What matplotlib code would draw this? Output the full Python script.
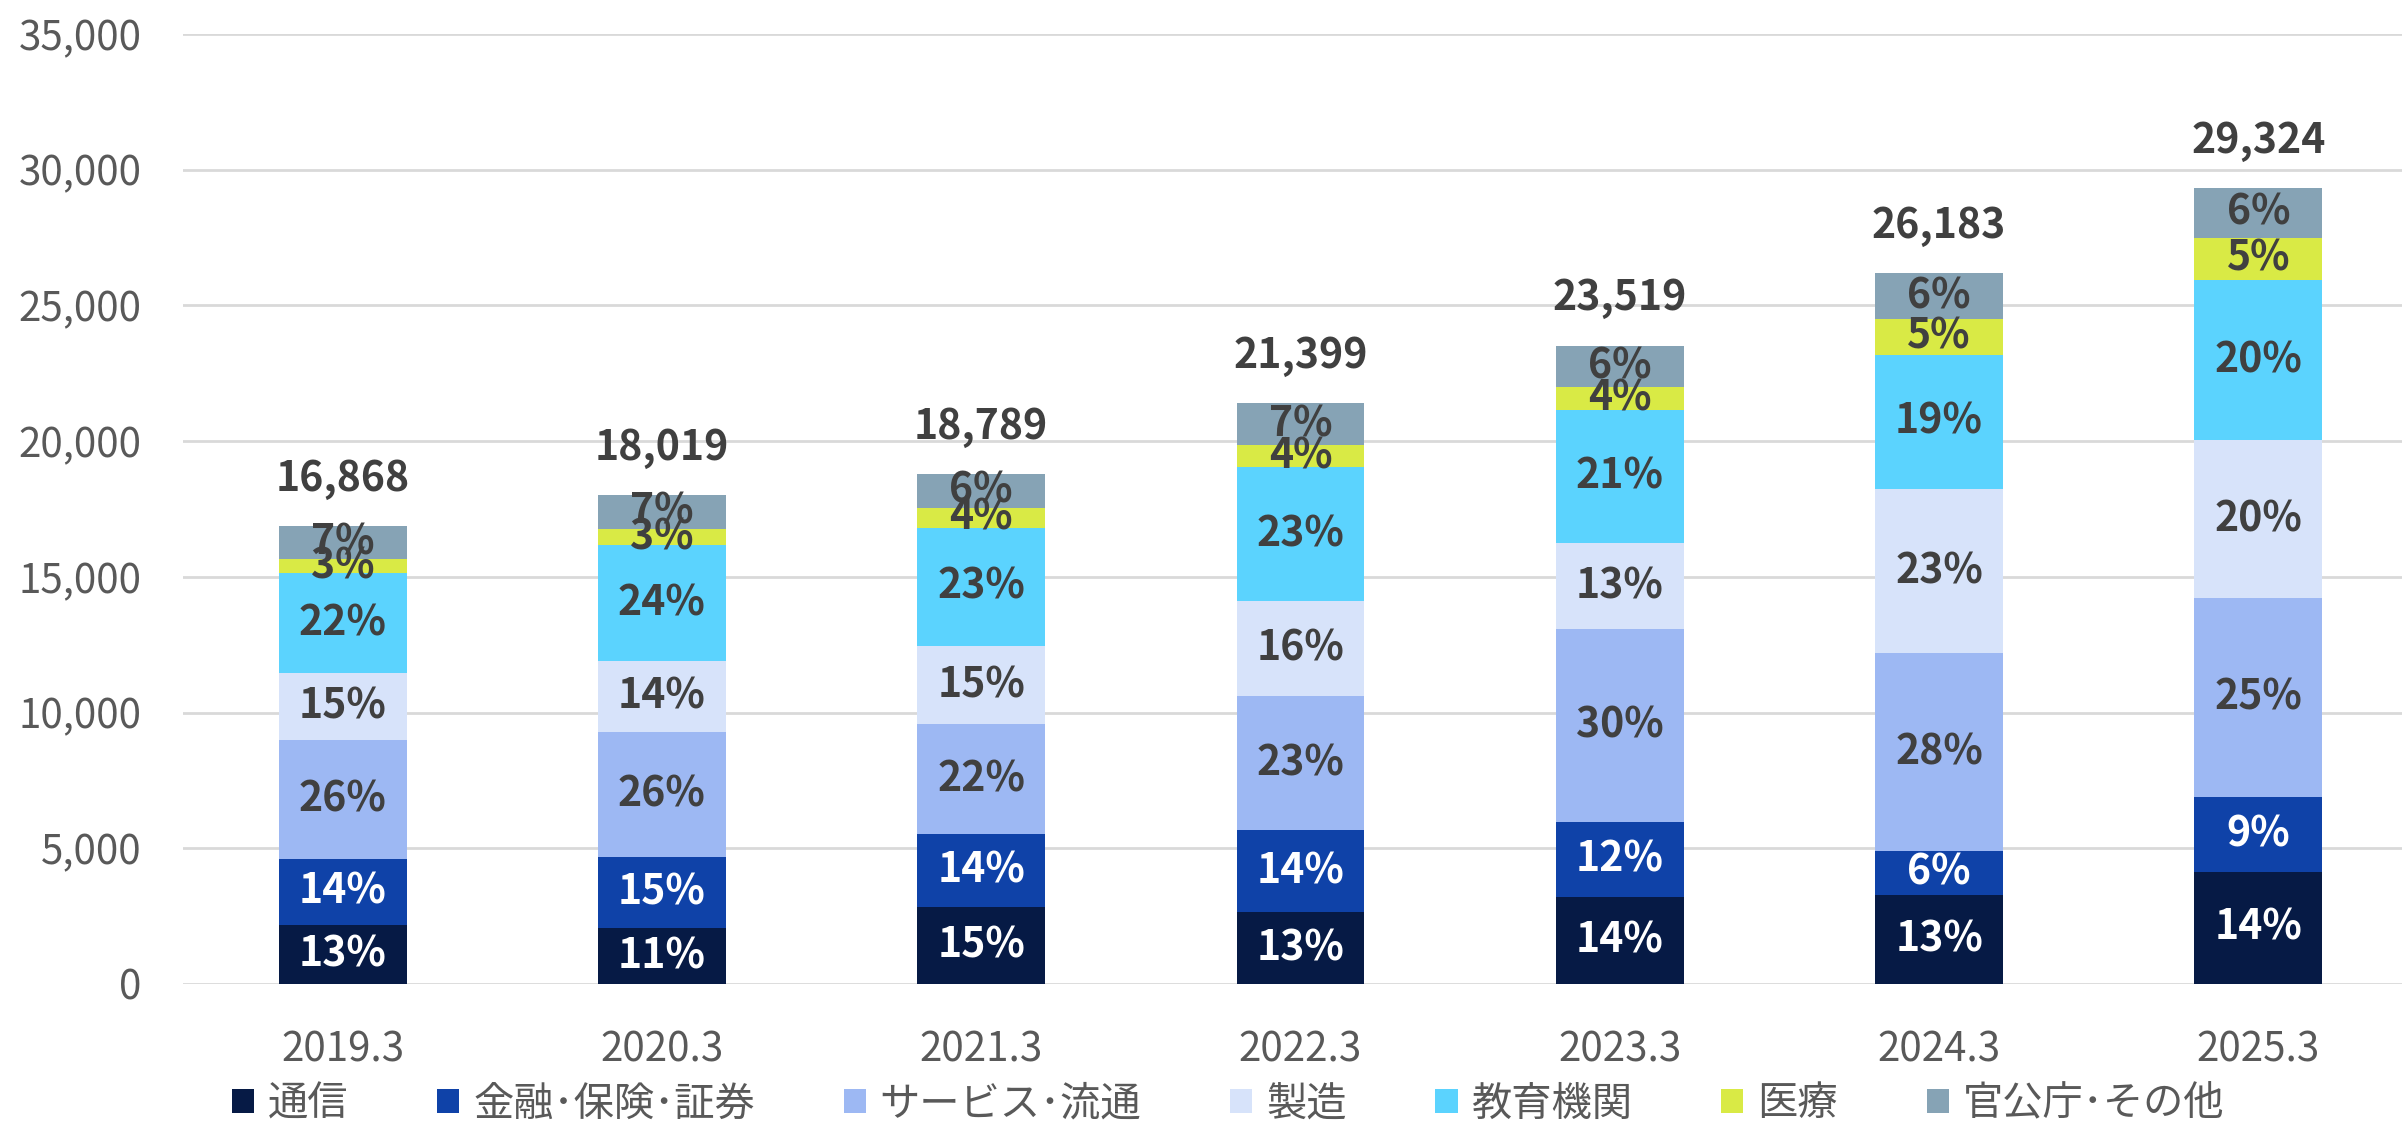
import matplotlib
matplotlib.use("Agg")
import matplotlib.pyplot as plt
import numpy as np
from matplotlib.patches import Patch

plt.rcParams['font.family'] = ['Noto Sans CJK JP', 'DejaVu Sans']

years = ['2019.3', '2020.3', '2021.3', '2022.3', '2023.3', '2024.3', '2025.3']
totals = [16868, 18019, 18789, 21399, 23519, 26183, 29324]

# segment values
tsushin = [2188, 2056, 2820, 2636, 3190, 3295, 4138]
kinyu = [2422, 2609, 2689, 3031, 2767, 1607, 2741]
service = [4380, 4613, 4059, 4929, 7113, 7275, 7328]
seizo = [2450, 2609, 2872, 3504, 3166, 6063, 5823]
kyoiku = [3700, 4270, 4376, 4930, 4904, 4950, 5906]
iryo = [510, 606, 738, 820, 870, 1300, 1554]
kankocho = [1218, 1256, 1235, 1549, 1509, 1693, 1834]

# percentage labels as printed
pct_tsushin = [13, 11, 15, 13, 14, 13, 14]
pct_kinyu = [14, 15, 14, 14, 12, 6, 9]
pct_service = [26, 26, 22, 23, 30, 28, 25]
pct_seizo = [15, 14, 15, 16, 13, 23, 20]
pct_kyoiku = [22, 24, 23, 23, 21, 19, 20]
pct_iryo = [3, 3, 4, 4, 4, 5, 5]
pct_kankocho = [7, 7, 6, 7, 6, 6, 6]

labels = ['通信', '金融･保険･証券', 'サービス･流通', '製造', '教育機関', '医療', '官公庁･その他']
series = [tsushin, kinyu, service, seizo, kyoiku, iryo, kankocho]
pcts = [pct_tsushin, pct_kinyu, pct_service, pct_seizo, pct_kyoiku, pct_iryo, pct_kankocho]
colors = ['#061A45', '#0F42A8', '#9DB8F3', '#D7E3FA', '#5BD3FE', '#D9EA45', '#86A3B5']
txt_colors = ['white', 'white', '#404040', '#404040', '#404040', '#404040', '#404040']

fig = plt.figure(figsize=(24.02, 11.22), dpi=100)
ax = fig.add_axes([0.0762, 0.123, 0.9238, 0.8467])

x = np.arange(len(years))
bottom = np.zeros(len(years))
for vals, p, c, tc in zip(series, pcts, colors, txt_colors):
    vals = np.array(vals, dtype=float)
    ax.bar(x, vals, 0.4, bottom=bottom, color=c, zorder=2)
    for i in range(len(x)):
        ax.text(x[i], bottom[i] + vals[i] / 2, f'{p[i]}%', ha='center', va='center',
                fontsize=29.5, fontweight='bold', color=tc, zorder=3)
    bottom += vals

for i in range(len(x)):
    ax.annotate(f'{totals[i]:,}', (x[i], bottom[i]), xytext=(0, 34), textcoords='offset points',
                ha='center', va='center', fontsize=29.5, fontweight='bold', color='#404040')

ax.set_xlim(-0.5, 6.45)
ax.set_ylim(0, 35000)
ax.set_yticks(np.arange(0, 35001, 5000))
ax.set_yticklabels([f'{v:,}' for v in range(0, 35001, 5000)])
ax.set_xticks(x)
ax.set_xticklabels(years)
ax.tick_params(axis='both', length=0, labelsize=29, labelcolor='#595959')
ax.tick_params(axis='y', pad=30)
ax.tick_params(axis='x', pad=33)
ax.grid(axis='y', color='#D9D9D9', linewidth=2, zorder=0)
for s in ax.spines.values():
    s.set_visible(False)

handles = [Patch(facecolor=c) for c in colors]
fig.legend(handles, labels, loc='center', bbox_to_anchor=(1228 / 2402, 1 - 1104 / 1122), ncol=7,
           frameon=False, fontsize=29, labelcolor='#595959', handlelength=0.55, handleheight=0.55,
           handletextpad=0.35, columnspacing=2.2, borderpad=0)

fig.savefig('out.png', dpi=100)
